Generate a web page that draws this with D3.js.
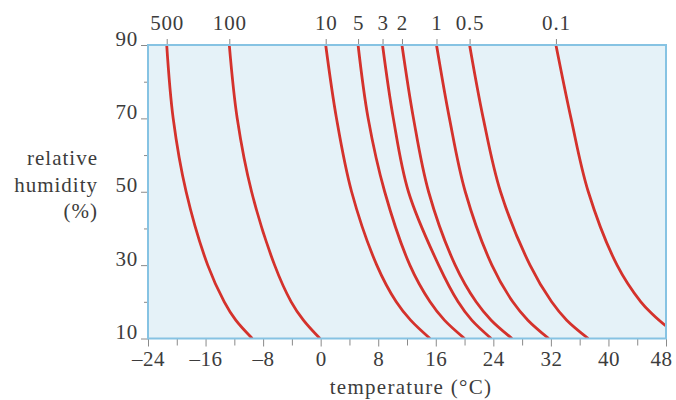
<!DOCTYPE html>
<html>
<head>
<meta charset="utf-8">
<script src="https://cdn.jsdelivr.net/npm/d3@7"></script>
<style>
  body { margin: 0; background: #ffffff; }
  svg text { font-family: "Liberation Serif", "DejaVu Serif", serif; fill: #3c3c3c; }
</style>
</head>
<body>
<svg id="chart" width="676" height="400"></svg>
<script>
// ---- data ----
const curveLabels = ["500", "100", "10", "5", "3", "2", "1", "0.5", "0.1"];
const humidityLevels = [90, 70, 50, 30, 20, 15, 10];
const temps500 = [-21.4, -20.5, -18.7, -15.7, -13.4, -11.8, -9.5];
const temps100 = [-12.7, -11.6, -9.6, -6.4, -4.1, -2.4, -0.1];
const temps10  = [0.7, 2.2, 4.3, 7.8, 10.5, 12.5, 15.2];
const temps5   = [5.2, 6.6, 8.9, 12.4, 15.2, 17.2, 20.0];
const temps3   = [8.6, 10.1, 12.2, 16.4, 19.1, 21.0, 23.7];
const temps2   = [11.3, 12.9, 15.0, 18.7, 21.6, 23.7, 26.6];
const temps1   = [16.1, 17.9, 20.1, 23.8, 26.7, 28.8, 31.7];
const temps05  = [20.7, 22.6, 25.0, 29.1, 32.1, 34.2, 37.2];
const temps01  = [32.7, 34.8, 37.2, 41.2, 44.5, 46.2, 48.0];
const humidity01 = [90, 70, 50, 30, 20, 16.5, 13.4];
const xTicks = [-24, -16, -8, 0, 8, 16, 24, 32, 40, 48];
const xMinorTicks = [-20, -12, -4, 4, 12, 20, 28, 36, 44];
const yTicks = [10, 30, 50, 70, 90];
const yMinorTicks = [20, 40, 60, 80];

const seriesTemps = [temps500, temps100, temps10, temps5, temps3, temps2, temps1, temps05, temps01];
const seriesHum = [humidityLevels, humidityLevels, humidityLevels, humidityLevels, humidityLevels,
                   humidityLevels, humidityLevels, humidityLevels, humidity01];

// ---- layout ----
const svg = d3.select("#chart");
const mLeft = 148, mRight = 666, mTop = 45, mBottom = 338.5;
const x = d3.scaleLinear().domain([-24, 48]).range([mLeft, mRight]);
const y = d3.scaleLinear().domain([10, 90]).range([mBottom, mTop]);

const fs = 21;
const tickCol = "#8a8a8a";
const frameCol = "#86c3e3";
const txtCol = "#3c3c3c";

// plot background
svg.append("rect")
  .attr("x", mLeft).attr("y", mTop)
  .attr("width", mRight - mLeft).attr("height", mBottom - mTop)
  .attr("fill", "#e5f2f8");

// clip
svg.append("clipPath").attr("id", "clip")
  .append("rect").attr("x", mLeft).attr("y", mTop - 1)
  .attr("width", mRight - mLeft).attr("height", mBottom - mTop + 1);

// curves
const line = d3.line().x(d => x(d[0])).y(d => y(d[1])).curve(d3.curveCatmullRom.alpha(0.5));
const g = svg.append("g").attr("clip-path", "url(#clip)");
seriesTemps.forEach((ts, i) => {
  const pts = ts.map((t, j) => [t, seriesHum[i][j]]);
  g.append("path").datum(pts)
    .attr("d", line)
    .attr("fill", "none")
    .attr("stroke", "#d4322c")
    .attr("stroke-width", 2.8);
});

function styleText(sel, ls) {
  sel.attr("font-size", fs).attr("font-family", "Liberation Serif").attr("fill", txtCol)
    .attr("letter-spacing", ls);
}

// bottom axis
const xAxis = svg.append("g").attr("transform", `translate(0,${mBottom})`)
  .call(d3.axisBottom(x).tickValues(xTicks).tickSize(8).tickPadding(5)
    .tickFormat(d => d < 0 ? "\u2013" + Math.abs(d) : String(d)));
xAxis.select(".domain").remove();
xAxis.selectAll("line").attr("stroke", tickCol);
styleText(xAxis.selectAll("text"), 0.5);
xAxis.selectAll("text").filter(d => d === 48).attr("dx", -5);
const xMinor = svg.append("g").attr("transform", `translate(0,${mBottom})`)
  .call(d3.axisBottom(x).tickValues(xMinorTicks).tickSize(7).tickFormat(""));
xMinor.select(".domain").remove();
xMinor.selectAll("line").attr("stroke", tickCol);

// left axis
const yAxis = svg.append("g").attr("transform", `translate(${mLeft},0)`)
  .call(d3.axisLeft(y).tickValues(yTicks).tickSize(7).tickPadding(3));
yAxis.select(".domain").remove();
yAxis.selectAll("line").attr("stroke", tickCol);
styleText(yAxis.selectAll("text"), 0.8);
yAxis.selectAll("text").attr("dy", "0");
const yMinor = svg.append("g").attr("transform", `translate(${mLeft},0)`)
  .call(d3.axisLeft(y).tickValues(yMinorTicks).tickSize(4).tickFormat(""));
yMinor.select(".domain").remove();
yMinor.selectAll("line").attr("stroke", tickCol);

// top axis: curve labels at curve starting points
const topVals = seriesTemps.map(ts => ts[0]);
const topAxis = svg.append("g").attr("transform", `translate(0,${mTop})`)
  .call(d3.axisTop(x).tickValues(topVals).tickSize(6).tickPadding(9)
    .tickFormat((d, i) => curveLabels[i]));
topAxis.select(".domain").remove();
topAxis.selectAll("line").attr("stroke", tickCol);
styleText(topAxis.selectAll("text"), 0.8);

// frame
svg.append("rect")
  .attr("x", mLeft).attr("y", mTop)
  .attr("width", mRight - mLeft).attr("height", mBottom - mTop)
  .attr("fill", "none").attr("stroke", frameCol).attr("stroke-width", 2);

// axis titles
svg.append("text").attr("x", (mLeft + mRight) / 2 + 4).attr("y", 394)
  .attr("text-anchor", "middle").attr("font-size", fs).attr("letter-spacing", 1.3)
  .attr("fill", txtCol)
  .text("temperature (\u00B0C)");
const yt = svg.append("text").attr("text-anchor", "end").attr("font-size", fs)
  .attr("letter-spacing", 1).attr("fill", txtCol);
[["relative", 165], ["humidity", 191.5], ["(%)", 218]].forEach(([s, yy]) => {
  yt.append("tspan").attr("x", 98).attr("y", yy).text(s);
});
</script>
</body>
</html>
